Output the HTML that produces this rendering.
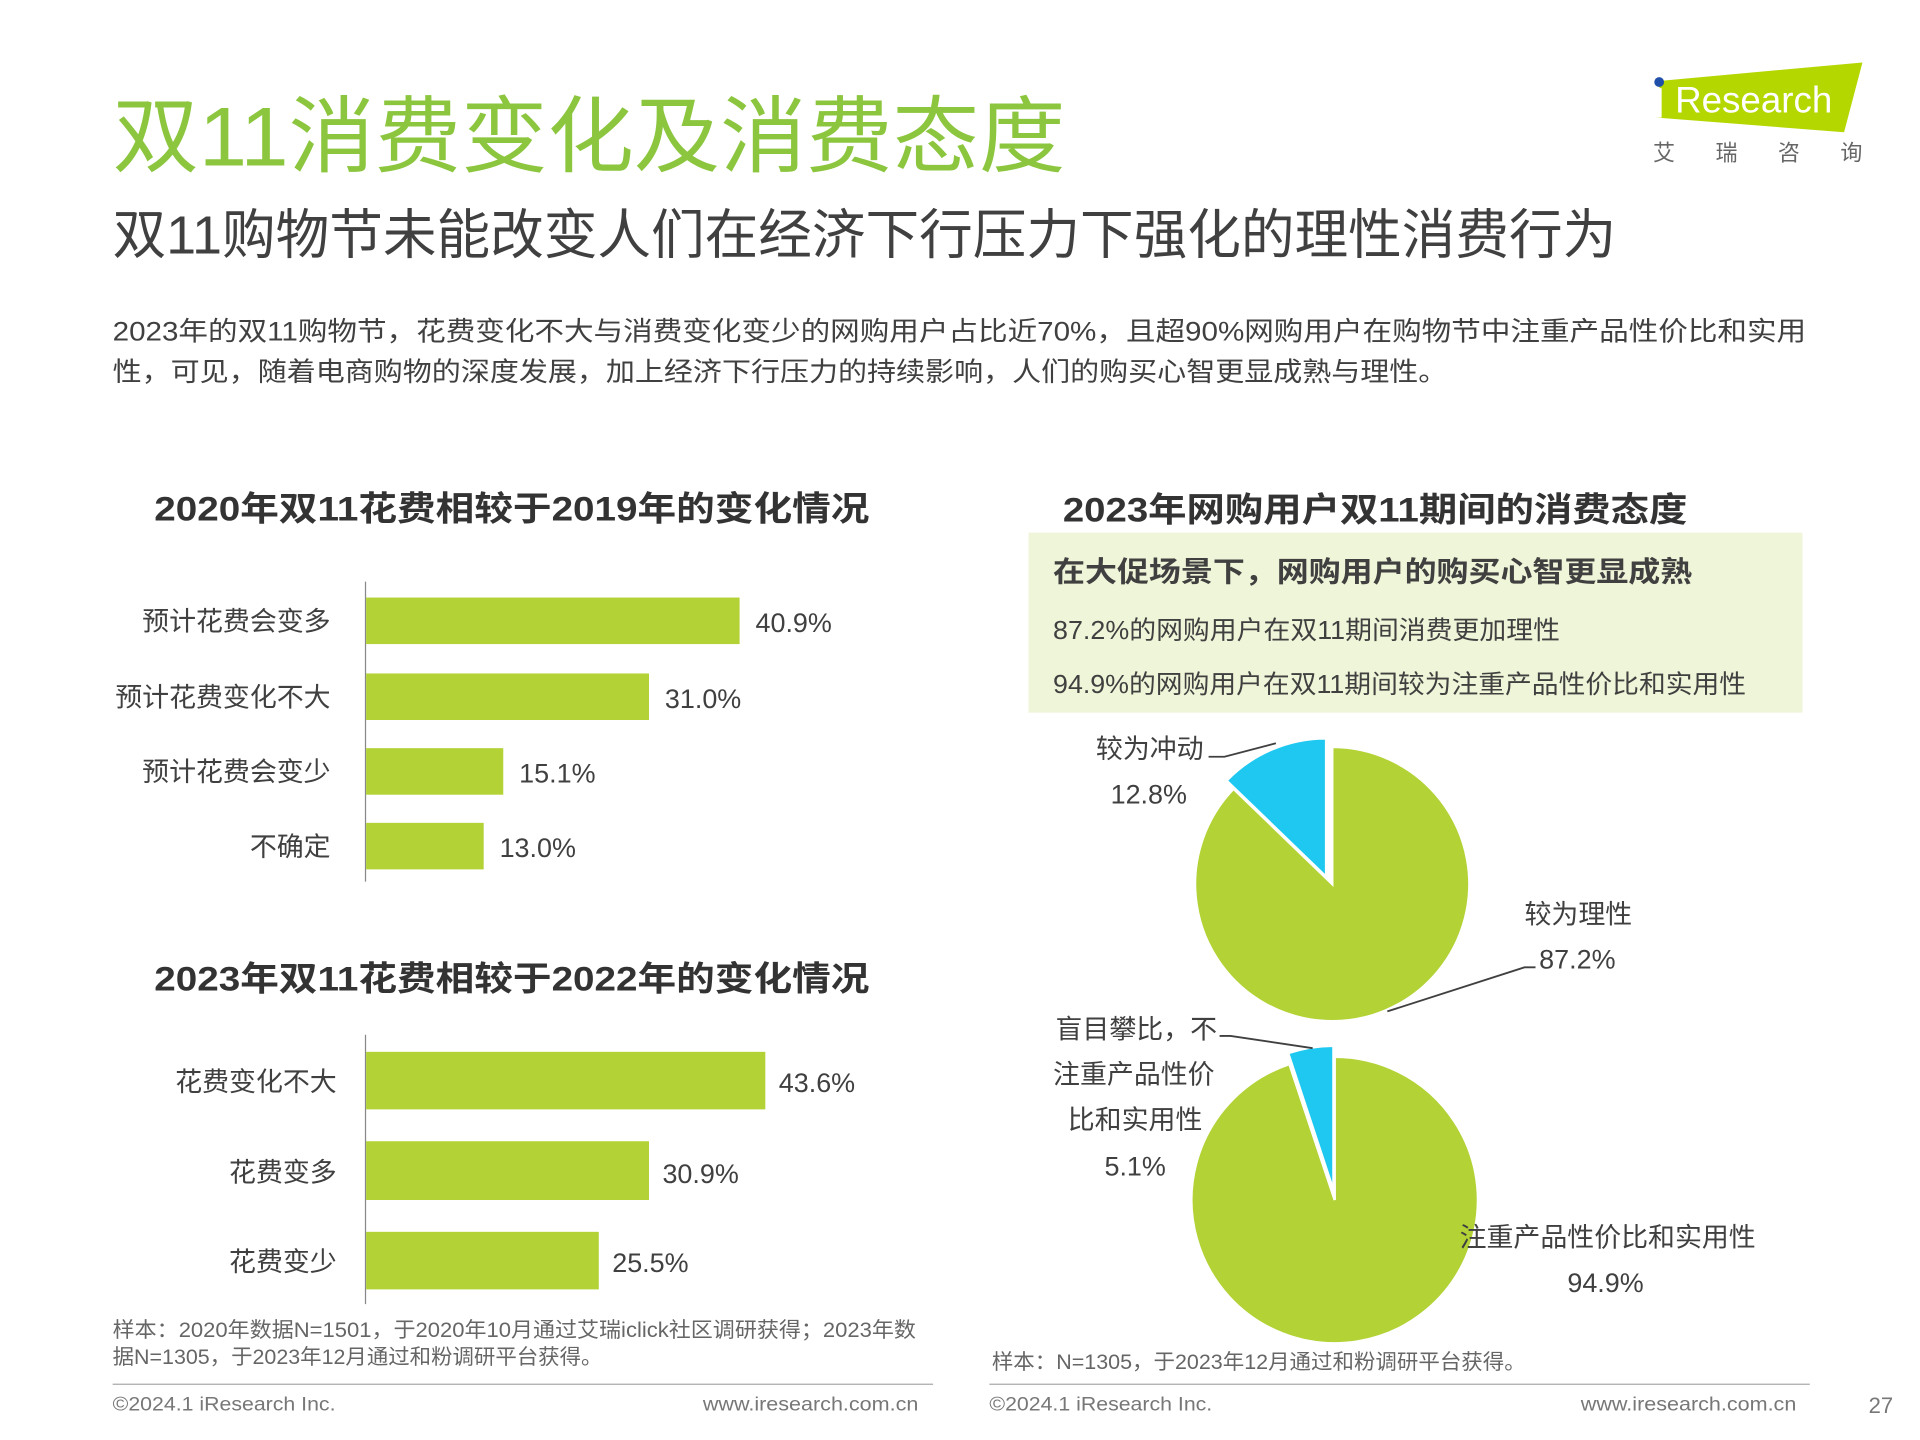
<!DOCTYPE html>
<html><head><meta charset="utf-8"><style>
html,body{margin:0;padding:0;background:#fff}
svg{display:block}
text{font-family:"Liberation Sans","Noto Sans CJK SC",sans-serif;fill:#404040}
</style></head><body>
<svg width="1920" height="1440" viewBox="0 0 1568 1176" xmlns="http://www.w3.org/2000/svg">
<!-- logo -->
<polygon points="1356,66 1521,51 1506,108 1352,96" fill="#b4d700"/>
<rect x="1352" y="72" width="5" height="24" fill="#fff"/>
<circle cx="1355" cy="67" r="4" fill="#1f4fa8"/>
<text x="1368" y="92" font-size="30" style="fill:#fff">Research</text>
<text x="1350" y="131" font-size="18" style="fill:#666" letter-spacing="33">艾瑞咨询</text>
<!-- titles -->
<text x="92" y="135" font-size="68" style="fill:#8cc63f" textLength="778" lengthAdjust="spacingAndGlyphs">双11消费变化及消费态度</text>
<text x="92" y="207" font-size="44" style="fill:#404040" textLength="1228" lengthAdjust="spacingAndGlyphs">双11购物节未能改变人们在经济下行压力下强化的理性消费行为</text>
<text x="92" y="278" font-size="22" textLength="1383" lengthAdjust="spacingAndGlyphs">2023年的双11购物节，花费变化不大与消费变化变少的网购用户占比近70%，且超90%网购用户在购物节中注重产品性价比和实用</text>
<text x="92" y="311" font-size="22" textLength="1090" lengthAdjust="spacingAndGlyphs">性，可见，随着电商购物的深度发展，加上经济下行压力的持续影响，人们的购买心智更显成熟与理性。</text>
<!-- chart1 -->
<text x="126" y="425" font-size="28" font-weight="bold" style="fill:#333" textLength="584" lengthAdjust="spacingAndGlyphs">2020年双11花费相较于2019年的变化情况</text>
<line x1="298.5" y1="475" x2="298.5" y2="720" stroke="#888" stroke-width="1"/>
<g fill="#b2d235">
<rect x="299" y="488" width="305" height="38"/>
<rect x="299" y="550" width="231" height="38"/>
<rect x="299" y="611" width="112" height="38"/>
<rect x="299" y="672" width="96" height="38"/>
</g>
<g font-size="22" text-anchor="end">
<text x="270" y="515">预计花费会变多</text>
<text x="270" y="577">预计花费变化不大</text>
<text x="270" y="638">预计花费会变少</text>
<text x="270" y="699">不确定</text>
</g>
<g font-size="22">
<text x="617" y="516">40.9%</text>
<text x="543" y="578">31.0%</text>
<text x="424" y="639">15.1%</text>
<text x="408" y="700">13.0%</text>
</g>
<!-- chart2 -->
<text x="126" y="809" font-size="28" font-weight="bold" style="fill:#333" textLength="584" lengthAdjust="spacingAndGlyphs">2023年双11花费相较于2022年的变化情况</text>
<line x1="298.5" y1="845" x2="298.5" y2="1065" stroke="#888" stroke-width="1"/>
<g fill="#b2d235">
<rect x="299" y="859" width="326" height="47"/>
<rect x="299" y="932" width="231" height="48"/>
<rect x="299" y="1006" width="190" height="47"/>
</g>
<g font-size="22" text-anchor="end">
<text x="275" y="891">花费变化不大</text>
<text x="275" y="965">花费变多</text>
<text x="275" y="1038">花费变少</text>
</g>
<g font-size="22">
<text x="636" y="892">43.6%</text>
<text x="541" y="966">30.9%</text>
<text x="500" y="1039">25.5%</text>
</g>
<text x="92" y="1092" font-size="17" style="fill:#666" textLength="656" lengthAdjust="spacingAndGlyphs">样本：2020年数据N=1501，于2020年10月通过艾瑞iclick社区调研获得；2023年数</text>
<text x="92" y="1114" font-size="17" style="fill:#666" textLength="400" lengthAdjust="spacingAndGlyphs">据N=1305，于2023年12月通过和粉调研平台获得。</text>
<!-- right -->
<text x="868" y="426" font-size="28" font-weight="bold" style="fill:#333" textLength="510" lengthAdjust="spacingAndGlyphs">2023年网购用户双11期间的消费态度</text>
<rect x="840" y="435" width="632" height="147" fill="#eff5d8"/>
<text x="860" y="475" font-size="23" font-weight="bold" style="fill:#404040" textLength="522" lengthAdjust="spacingAndGlyphs">在大促场景下，网购用户的购买心智更显成熟</text>
<text x="860" y="522" font-size="21" textLength="414" lengthAdjust="spacingAndGlyphs">87.2%的网购用户在双11期间消费更加理性</text>
<text x="860" y="566" font-size="21" textLength="566" lengthAdjust="spacingAndGlyphs">94.9%的网购用户在双11期间较为注重产品性价比和实用性</text>
<!-- pie1 -->
<path d="M1088,722 L1088,610 A112,112 0 1 1 1007.4,644.2 Z" fill="#b2d235" stroke="#fff" stroke-width="2"/>
<path d="M1083,716 L1083,603 A113,113 0 0 0 1001.7,637.5 Z" fill="#1ec8f0" stroke="#fff" stroke-width="2"/>
<polyline points="987,618 1000,618 1042,607" fill="none" stroke="#404040" stroke-width="1.5"/>
<polyline points="1133,826 1245,790 1254,790" fill="none" stroke="#404040" stroke-width="1.5"/>
<g font-size="22">
<text x="895" y="619">较为冲动</text>
<text x="907" y="656">12.8%</text>
<text x="1245" y="754">较为理性</text>
<text x="1257" y="791">87.2%</text>
</g>
<!-- pie2 -->
<path d="M1090,980 L1090,863 A117,117 0 1 1 1053,869 Z" fill="#b2d235" stroke="#fff" stroke-width="2"/>
<path d="M1089,972 L1089,854 A118,118 0 0 0 1052,860 Z" fill="#1ec8f0" stroke="#fff" stroke-width="2"/>
<polyline points="996,846 1005,846 1072,856" fill="none" stroke="#404040" stroke-width="1.5"/>
<g font-size="22">
<text x="862" y="848">盲目攀比，不</text>
<text x="860" y="885">注重产品性价</text>
<text x="872" y="922">比和实用性</text>
<text x="902" y="960">5.1%</text>
<text x="1192" y="1018">注重产品性价比和实用性</text>
<text x="1280" y="1055">94.9%</text>
</g>
<text x="810" y="1118" font-size="17" style="fill:#666" textLength="436" lengthAdjust="spacingAndGlyphs">样本：N=1305，于2023年12月通过和粉调研平台获得。</text>
<!-- footer -->
<line x1="92" y1="1130.5" x2="762" y2="1130.5" stroke="#aaa" stroke-width="1"/>
<line x1="808" y1="1130.5" x2="1478" y2="1130.5" stroke="#aaa" stroke-width="1"/>
<g font-size="16" style="fill:#777">
<text x="92" y="1152" style="fill:#777" textLength="182" lengthAdjust="spacingAndGlyphs">©2024.1 iResearch Inc.</text>
<text x="574" y="1152" style="fill:#777" textLength="176" lengthAdjust="spacingAndGlyphs">www.iresearch.com.cn</text>
<text x="808" y="1152" style="fill:#777" textLength="182" lengthAdjust="spacingAndGlyphs">©2024.1 iResearch Inc.</text>
<text x="1291" y="1152" style="fill:#777" textLength="176" lengthAdjust="spacingAndGlyphs">www.iresearch.com.cn</text>
<text x="1526" y="1154" font-size="18" style="fill:#777">27</text>
</g>
</svg>
</body></html>
